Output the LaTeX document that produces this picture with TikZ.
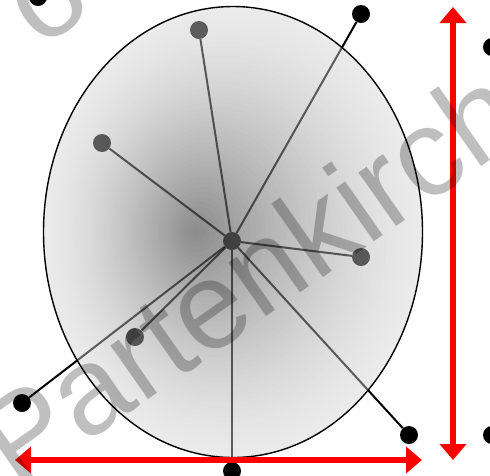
\documentclass[tikz,border=0pt]{standalone}
\usepackage{fontspec}
\setmainfont{Liberation Sans}
\usetikzlibrary{arrows.meta}
\begin{document}
\begin{tikzpicture}[x=1pt,y=-1pt,
  dot/.style={circle,fill=black,inner sep=0pt,minimum size=18pt},
  spoke/.style={line width=2pt,black},
  redarrow/.style={line width=6.5pt,red,{Triangle[length=16pt,width=26pt]}-{Triangle[length=16pt,width=26pt]}},
  wmark/.style={text=black,text opacity=0.25,font=\fontsize{124}{124}\selectfont,inner sep=0pt,rotate=35}]
\useasboundingbox (0,0) rectangle (490,475);
% points
\node[dot] (C)  at (232,241) {};
\node[dot] (P1) at (199,30) {};
\node[dot] (P2) at (361,14) {};
\node[dot] (P3) at (102,143) {};
\node[dot] (P4) at (361,257) {};
\node[dot] (P5) at (135,337) {};
\node[dot] (P6) at (22,403) {};
\node[dot] (P7) at (232,471) {};
\node[dot] (P8) at (409,435) {};
\node[dot] (P9) at (38,-3) {};
\node[dot] (P10) at (492,47) {};
\node[dot] (P11) at (492,435) {};
% spokes
\foreach \p in {P1,P2,P3,P4,P5,P6,P7,P8}
  \draw[spoke] (C) -- (\p);
% ellipse body: graded fill from rim to centre
\foreach \i in {0,...,44}{
  \pgfmathsetmacro{\s}{1-\i/45}
  \pgfmathsetmacro{\k}{8+38*(1-\s)^1.4}
  \fill[black!\k] ({233-38*(1-\s)},232) ellipse [x radius={189.5*\s}, y radius={225.5*\s}];
}
% what shows through the ellipse
\begin{scope}
  \clip (233,232) ellipse [x radius=189.5, y radius=225.5];
  \foreach \p in {P1,P2,P3,P4,P5,P6,P7,P8}
    \draw[spoke,draw opacity=0.6] (C) -- (\p);
  \foreach \p in {C,P1,P3,P4,P5}
    \fill[black,fill opacity=0.6] (\p) circle [radius=9pt];
\end{scope}
\draw[line width=1.4pt] (233,232) ellipse [x radius=189.5, y radius=225.5];
% red arrows
\coordinate (hl) at (15,460);
\coordinate (hr) at (422,460);
\coordinate (vt) at (453,7);
\coordinate (vb) at (453,460);
\draw[redarrow] (hl) -- (hr);
\draw[redarrow] (vt) -- (vb);
% watermark
\node[wmark,anchor=base west] (wm) at (17,492) {Partenkirchen};
\node[wmark,anchor=center] (wo) at (50,3) {o};
\end{tikzpicture}
\end{document}
